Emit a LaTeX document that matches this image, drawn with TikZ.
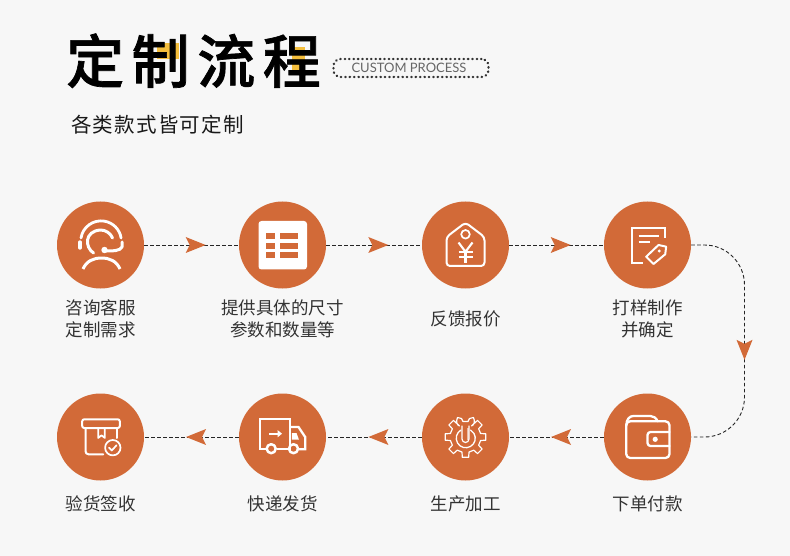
\documentclass[tikz,border=0pt]{standalone}
\usepackage{fontspec}
\usetikzlibrary{decorations.markings}
\setmainfont{Noto Sans CJK SC}
\newfontfamily\titlefont[LetterSpace=13,FakeBold=1.2]{Noto Sans CJK SC Medium}
\newfontfamily\subfont[LetterSpace=6]{Noto Sans CJK SC}
\newfontfamily\latinfont{Lato}
\definecolor{pagebg}{HTML}{F7F7F7}
\definecolor{stepcolor}{HTML}{D26A38}
\definecolor{accent}{HTML}{F4BE3C}
\definecolor{labelgray}{HTML}{333333}
\newcommand{\flowtip}{\fill[stepcolor, sharp corners] (0,0) -- (-20,-8) -- (-16,0) -- (-20,8) -- cycle;}
\tikzset{
  stepcircle/.style={circle, fill=stepcolor, minimum size=87pt, inner sep=0pt},
  steplabel/.style={font=\fontsize{17.5}{21.5}\selectfont, text=labelgray, align=center, inner sep=0pt},
  flowline/.style={black!85, line width=0.9pt, dash pattern=on 3.6pt off 2.4pt,
    decoration={markings, mark=at position #1 with {\flowtip}}, postaction={decorate}},
  iconline/.style={draw=white, line width=2pt, line cap=round, line join=round},
}
\begin{document}
\begin{tikzpicture}[x=1pt, y=-1pt]
  \path[fill=pagebg, use as bounding box] (0,0) rectangle (790,556);
  % titre
  \fill[accent] (157,43) rectangle (179,59);
  \fill[accent] (292,47) rectangle (305,72);
  \node[anchor=base west, inner sep=0pt, font=\titlefont\fontsize{58}{58}\selectfont] (title) at (66,83) {定制流程};
  \node[anchor=base west, inner sep=0pt, font=\subfont\fontsize{20.5}{24}\selectfont, text=black!90] (subtitle) at (71,133) {各类款式皆可定制};
  \node[draw=black!80, line width=2.4pt, dash pattern=on 0.4pt off 4pt, line cap=round, rounded corners=7pt,
        minimum width=155pt, minimum height=18pt, inner sep=0pt, text=black!60,
        font=\latinfont\fontsize{13}{14}\selectfont] (tagline) at (411,68) {CUSTOM PROCESS\rule{4pt}{0pt}};
  % cercles
  \node[stepcircle] (c1) at (100.5,245) {};
  \node[stepcircle] (c2) at (282.5,245) {};
  \node[stepcircle] (c3) at (465.5,245) {};
  \node[stepcircle] (c4) at (647.5,245) {};
  \node[stepcircle] (c5) at (647.5,437) {};
  \node[stepcircle] (c6) at (465.5,437) {};
  \node[stepcircle] (c7) at (282.5,437) {};
  \node[stepcircle] (c8) at (100.5,437) {};
  % liaisons
  \coordinate (turnA) at (744.5,245);
  \coordinate (turnB) at (744.5,437);
  \draw[flowline=0.65, yshift=0.7pt] (c1) -- (c2);
  \draw[flowline=0.65, yshift=0.7pt] (c2) -- (c3);
  \draw[flowline=0.65, yshift=0.7pt] (c3) -- (c4);
  \draw[flowline=151pt, rounded corners=40pt] (c4.east) -- (turnA) -- (turnB) -- (c5.east);
  \draw[flowline=0.558] (c5) -- (c6);
  \draw[flowline=0.558] (c6) -- (c7);
  \draw[flowline=0.558] (c7) -- (c8);
  % textes
  \node[steplabel] (t1) at (100.5,319) {咨询客服\\定制需求};
  \node[steplabel] (t2) at (282.5,319) {提供具体的尺寸\\参数和数量等};
  \node[steplabel] (t3) at (465.5,319) {反馈报价};
  \node[steplabel] (t4) at (647.5,319) {打样制作\\并确定};
  \node[steplabel] (t5) at (647.5,504) {下单付款};
  \node[steplabel] (t6) at (465.5,504) {生产加工};
  \node[steplabel] (t7) at (282.5,504) {快递发货};
  \node[steplabel] (t8) at (100.5,504) {验货签收};
  % icone casque
  \begin{scope}[shift={(c1.center)}]
    \draw[iconline, line width=2.8pt] (-19.5,-7) arc[start angle=189, end angle=351, radius=20.3];
    \draw[iconline, line width=3.4pt] (-20.5,-3) -- (-20.5,3);
    \draw[iconline, line width=3pt] (21.5,-3) -- (21.5,2) .. controls (20,6) and (12,6) .. (4,6);
    \fill[white] (4,5) circle[radius=3.2];
    \draw[iconline, line width=3pt] (-7,8) .. controls (-16,2) and (-16,-14) .. (0,-15) .. controls (5,-15) and (10,-12) .. (12,-7);
    \draw[iconline, line width=3pt, line cap=butt] (-17.5,24) .. controls (-14,16) and (-7,13) .. (1,13) .. controls (9,13) and (16,16) .. (19.5,24);
  \end{scope}
  % icone tableau
  \begin{scope}[shift={(c2.center)}]
    \fill[white, rounded corners=3pt] (-24,-24) rectangle (24.5,24.5);
    \foreach \y in {-11.7,-2.3,6.8} {
      \fill[stepcolor] (-16.3,\y) rectangle (-7.3,\y+5.9);
      \fill[stepcolor] (-2.3,\y) rectangle (15.7,\y+5.9);
    }
  \end{scope}
  % icone etiquette
  \begin{scope}[shift={(c3.center)}]
    \draw[iconline, rounded corners=3.5pt] (0,-22.5) -- (-19,-8) -- (-19,21) -- (19,21) -- (19,-8) -- cycle;
    \draw[iconline, line width=1.7pt] (0,-10.7) circle[radius=4.3];
    \draw[iconline, line width=2.1pt, line cap=butt] (-7,-2.5) -- (0,6.8) -- (7,-2.5);
    \draw[iconline, line width=2pt, line cap=butt] (-7,7.3) -- (7,7.3);
    \draw[iconline, line width=2pt, line cap=butt] (-7,11.8) -- (7,11.8);
    \draw[iconline, line width=2.1pt, line cap=butt] (0,6.8) -- (0,18);
  \end{scope}
  % icone document
  \begin{scope}[shift={(c4.center)}]
    \draw[iconline, line cap=butt, line join=miter] (17.7,-7) -- (17.7,-17.3) -- (-15.7,-17.3) -- (-15.7,18.3) -- (-5,18.3);
    \draw[iconline, line cap=butt] (-9,-9.3) -- (11,-9.3);
    \draw[iconline, line cap=butt] (-9,-2.7) -- (2,-2.7);
    \draw[iconline] (-1.3,11.7) -- (11,0) -- (18.7,1.7) -- (17.7,9.3) -- (6,19) -- cycle;
    \fill[white] (11.7,6) circle[radius=1.6];
  \end{scope}
  % icone portefeuille
  \begin{scope}[shift={(c5.center)}]
    \draw[iconline, line width=2.3pt, rounded corners=4pt] (-21.3,-15.7) rectangle (22,21);
    \draw[iconline, line width=2.3pt] (-21.3,-11) .. controls (-21,-18) and (-18,-21) .. (-14,-21) -- (3,-21) .. controls (6,-21) and (9,-19) .. (10,-15.7);
    \draw[iconline, line width=2.3pt, rounded corners=3pt] (22,9) -- (0,9) -- (0,-5) -- (22,-5);
    \fill[white] (7.7,2.3) circle[radius=2.6];
  \end{scope}
  % icone engrenage
  \begin{scope}[shift={(c6.center)}]
    \draw[iconline, line width=1.2pt] (4,-18.5) -- (8,-19.5) .. controls (9.5,-16) and (9,-12) .. (6,-11)
      \foreach \a in {315,360,405,450,495,540,585} { -- (\a-13:15.5) -- (\a-9:20.5) -- (\a+9:20.5) -- (\a+13:15.5) }
      -- (-6,-11) .. controls (-9,-12) and (-9.5,-16) .. (-8,-19.5) -- (-4,-18.5) -- (-2.5,-15.5) -- (2.5,-15.5) -- cycle;
    \draw[iconline, line width=1.3pt] (-4.5,-7) arc[start angle=240, end angle=-60, radius=9.5];
    \draw[iconline, line width=1.2pt] (-3.5,-11) -- (-3.5,2) arc[start angle=180, end angle=0, radius=3.5] -- (3.5,-11);
    \fill[white, opacity=0.55] (1.5,-9) rectangle (3.5,3);
  \end{scope}
  % icone camion
  \begin{scope}[shift={(c7.center)}]
    \draw[iconline, line width=2.3pt, line cap=butt, line join=miter] (-16.5,12.3) -- (-22.3,12.3) -- (-22.3,-17.7) -- (7.7,-17.7) -- (7.7,12.3) -- (6,12.3);
    \draw[iconline, line width=2.3pt, line cap=butt, line join=miter] (-6,12.3) -- (6,12.3);
    \draw[iconline, line width=2.3pt, line cap=butt, line join=miter] (7.7,-10) -- (16,-10) -- (22.7,0) -- (22.7,12.3) -- (16,12.3);
    \draw[iconline, line width=2.5pt] (-11.3,11.7) circle[radius=4.5];
    \draw[iconline, line width=2.5pt] (11,11.7) circle[radius=4.5];
    \fill[white] (9.3,-4) -- (14,-4) -- (16.5,2.7) -- (9.3,2.7) -- cycle;
    \draw[iconline, line cap=butt] (-13.3,-3.3) -- (-3,-3.3);
    \fill[white] (-0.5,-3.3) -- (-5,-7) -- (-5,0.4) -- cycle;
  \end{scope}
  % icone colis
  \begin{scope}[shift={(c8.center)}]
    \draw[iconline, rounded corners=2pt] (-18.3,-17.7) rectangle (19.3,-9);
    \draw[iconline, rounded corners=3pt] (-15,-9) -- (-15,17.3) -- (2.7,17.3);
    \draw[iconline] (16.7,-9) -- (16.7,1);
    \draw[iconline, line width=1.7pt] (-2.3,-9) -- (-2.3,1) -- (1,-1.7) -- (4.3,1) -- (4.3,-9);
    \draw[iconline, line width=1.7pt] (12.3,10.7) circle[radius=7.7];
    \draw[iconline, line width=1.7pt] (8.5,10.7) -- (11.3,13.5) -- (16,8.3);
  \end{scope}
\end{tikzpicture}
\end{document}
